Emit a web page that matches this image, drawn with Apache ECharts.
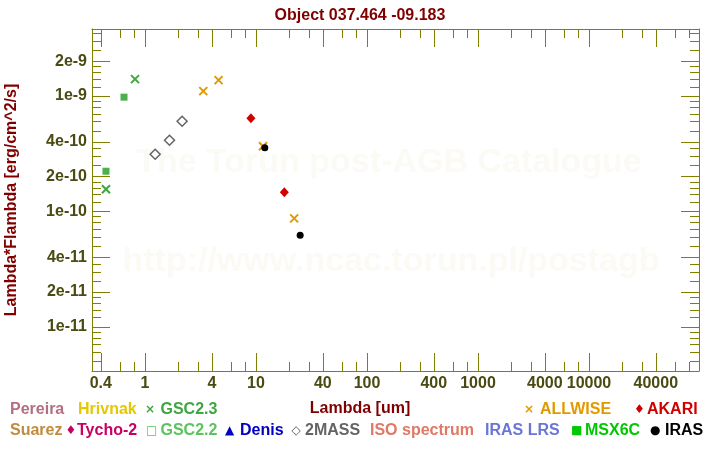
<!DOCTYPE html>
<html><head><meta charset="utf-8">
<script src="https://cdn.jsdelivr.net/npm/echarts@6/dist/echarts.min.js"></script>
<style>html,body{margin:0;padding:0;background:#fff}#c{width:720px;height:450px}</style>
</head><body><div id="c"></div>
<script>
// ---------- data ----------
const titleText = 'Object 037.464 -09.183';
const xName = 'Lambda [um]';
const yName = 'Lambda*Flambda [erg/cm^2/s]';
const xRange = [0.333, 98000];
const yRange = [4.14e-12, 3.81e-9];
const xMajorTicks = [0.4, 1, 4, 10, 40, 100, 400, 1000, 4000, 10000, 40000];
const xTickLabels = ['0.4', '1', '4', '10', '40', '100', '400', '1000', '4000', '10000', '40000'];
const xMinorTicks = [0.6, 0.8, 2, 3, 6, 8, 20, 30, 60, 80, 200, 300, 600, 800, 2000, 3000, 6000, 8000, 20000, 30000, 60000, 80000];
const yMajorTicks = [1e-11, 2e-11, 4e-11, 1e-10, 2e-10, 4e-10, 1e-9, 2e-9];
const yTickLabels = ['1e-11', '2e-11', '4e-11', '1e-10', '2e-10', '4e-10', '1e-9', '2e-9'];
const yMinorTicks = [5e-12, 6e-12, 7e-12, 8e-12, 9e-12,
  1.2e-11, 1.4e-11, 1.6e-11, 1.8e-11, 2.5e-11, 3e-11, 3.5e-11, 5e-11, 6e-11, 7e-11, 8e-11, 9e-11,
  1.2e-10, 1.4e-10, 1.6e-10, 1.8e-10, 2.5e-10, 3e-10, 3.5e-10, 5e-10, 6e-10, 7e-10, 8e-10, 9e-10,
  1.2e-9, 1.4e-9, 1.6e-9, 1.8e-9, 2.5e-9, 3e-9, 3.5e-9];

const gsc23Lambda = [0.445, 0.813];
const gsc23Flux = [1.556e-10, 1.402e-9];
const gsc22Lambda = [0.445, 0.647];
const gsc22Flux = [2.23e-10, 9.78e-10];
const twomassLambda = [1.235, 1.662, 2.159];
const twomassFlux = [3.13e-10, 4.14e-10, 6.05e-10];
const allwiseLambda = [3.35, 4.6, 11.56, 22.08];
const allwiseFlux = [1.103e-9, 1.374e-9, 3.67e-10, 8.71e-11];
const akariLambda = [9, 18];
const akariFlux = [6.43e-10, 1.465e-10];
const irasLambda = [12, 25];
const irasFlux = [3.57e-10, 6.20e-11];

const legendRow1Names = ['Pereira', 'Hrivnak', 'GSC2.3', 'ALLWISE', 'AKARI'];
const legendRow1Symbols = ['', '', '×', '×', '♦'];
const legendRow1Colors = ['#b46e82', '#e6c800', '#3fa63f', '#e09a00', '#d00000'];
const legendRow2Names = ['Suarez', 'Tycho-2', 'GSC2.2', 'Denis', '2MASS', 'ISO spectrum', 'IRAS LRS', 'MSX6C', 'IRAS'];
const legendRow2Symbols = ['', '♦', '□', '▲', '◇', '', '', '■', '●'];
const legendRow2Colors = ['#c08c3c', '#c80064', '#5cc45c', '#0000c0', '#646464', '#e07866', '#6a76d6', '#00c800', '#000000'];
const watermark = ['The Torun post-AGB Catalogue', 'http://www.ncac.torun.pl/postagb'];

// ---------- layout ----------
const FONT = '"Liberation Sans", Arial, Helvetica, sans-serif';
const OLIVE = '#808000';
const LABEL = '#4a4a12';
const DARKRED = '#800000';
const L = Math.log10;
const logs = a => a.map(v => L(v));
const pts = (xs, ys) => xs.map((x, i) => [L(x), L(ys[i])]);
function lookup(ticks, labels) {
  return v => { for (let i = 0; i < ticks.length; i++) if (Math.abs(L(ticks[i]) - v) < 1e-6) return labels[i]; return ''; };
}
const gridRect = { left: 92, right: 21, top: 29, bottom: 79, containLabel: false, outerBoundsMode: 'none' };

function xAx(grid, pos, major, showLine, showLabel) {
  return {
    type: 'value', gridIndex: grid, position: pos, min: L(xRange[0]), max: L(xRange[1]),
    axisLine: { show: showLine, onZero: false, lineStyle: { color: OLIVE, width: 1 } },
    axisTick: { show: true, inside: true, length: major ? 18 : 9, customValues: logs(major ? xMajorTicks : xMinorTicks), lineStyle: { color: OLIVE, width: 1 } },
    axisLabel: { show: showLabel, customValues: logs(xMajorTicks), formatter: lookup(xMajorTicks, xTickLabels), color: LABEL, fontSize: 16, fontWeight: 'bold', fontFamily: FONT, margin: 5 },
    splitLine: { show: false }
  };
}
function yAx(grid, pos, major, showLine, showLabel, withName) {
  const a = {
    type: 'value', gridIndex: grid, position: pos, min: L(yRange[0]), max: L(yRange[1]),
    axisLine: { show: showLine, onZero: false, lineStyle: { color: OLIVE, width: 1 } },
    axisTick: { show: true, inside: true, length: major ? 18 : 9, customValues: logs(major ? yMajorTicks : yMinorTicks), lineStyle: { color: OLIVE, width: 1 } },
    axisLabel: { show: showLabel, customValues: logs(yMajorTicks), formatter: lookup(yMajorTicks, yTickLabels), color: LABEL, fontSize: 16, fontWeight: 'bold', fontFamily: FONT, margin: 5 },
    splitLine: { show: false }
  };
  if (withName) {
    a.name = yName; a.nameLocation = 'middle'; a.nameRotate = 90; a.nameGap = 72;
    a.nameTextStyle = { color: DARKRED, fontSize: 16, fontWeight: 'bold', fontFamily: FONT };
  }
  return a;
}

const cross = 'path://M0,0L10,10M0,10L10,0';
const graphics = [];
watermark.forEach((t, i) => {
  graphics.push({ type: 'text', x: [389, 391][i], y: [163, 262][i], silent: true, z: 0,
    style: { text: t, fill: '#fcfaf5', font: 'bold 34px ' + FONT, align: 'center', verticalAlign: 'middle' } });
});
function addRow(names, syms, colors, tx, sx, y) {
  names.forEach((n, i) => {
    if (syms[i]) graphics.push({ type: 'text', x: sx[i], y: y, style: { text: syms[i], fill: colors[i], font: 'bold 12px "DejaVu Sans", sans-serif', align: 'left', verticalAlign: 'middle' } });
    graphics.push({ type: 'text', x: tx[i], y: y, style: { text: n, fill: colors[i], font: 'bold 16px ' + FONT, align: 'left', verticalAlign: 'middle' } });
  });
}
addRow(legendRow1Names, legendRow1Symbols, legendRow1Colors, [10, 78, 160.5, 540, 647], [0, 0, 145, 524, 634], 410);
addRow(legendRow2Names, legendRow2Symbols, legendRow2Colors, [10, 77, 160.5, 240, 305, 370, 485, 585, 665], [0, 65.5, 146, 225, 291.5, 0, 0, 571, 650], 431);

const chart = echarts.init(document.getElementById('c'), null, { renderer: 'canvas' });
chart.setOption({
  backgroundColor: '#fff',
  animation: false,
  title: [
    { text: titleText, left: 'center', top: 3, textStyle: { color: DARKRED, fontSize: 16, fontWeight: 'bold', fontFamily: FONT } },
    { text: xName, left: 'center', top: 396, textStyle: { color: DARKRED, fontSize: 16, fontWeight: 'bold', fontFamily: FONT } }
  ],
  grid: [Object.assign({}, gridRect), Object.assign({}, gridRect)],
  xAxis: [xAx(0, 'bottom', true, true, true), xAx(0, 'top', true, true, false), xAx(1, 'bottom', false, false, false), xAx(1, 'top', false, false, false)],
  yAxis: [yAx(0, 'left', true, true, true, true), yAx(0, 'right', true, true, false, false), yAx(1, 'left', false, false, false, false), yAx(1, 'right', false, false, false, false)],
  graphic: graphics,
  series: [
    { name: 'GSC2.2', type: 'scatter', data: pts(gsc22Lambda, gsc22Flux), symbol: 'rect', symbolSize: 7, itemStyle: { color: '#4cb04c', opacity: 1 }, z: 3 },
    { name: 'GSC2.3', type: 'scatter', data: pts(gsc23Lambda, gsc23Flux), symbol: cross, symbolSize: 8, itemStyle: { color: 'rgba(0,0,0,0)', borderColor: '#3fa63f', borderWidth: 2, opacity: 1 }, z: 3 },
    { name: '2MASS', type: 'scatter', data: pts(twomassLambda, twomassFlux), symbol: 'diamond', symbolSize: 10, itemStyle: { color: 'rgba(0,0,0,0)', borderColor: '#646464', borderWidth: 1.5, opacity: 1 }, z: 3 },
    { name: 'AKARI', type: 'scatter', data: pts(akariLambda, akariFlux), symbol: 'diamond', symbolSize: [9, 10], itemStyle: { color: '#d00000', opacity: 1 }, z: 3 },
    { name: 'ALLWISE', type: 'scatter', data: pts(allwiseLambda, allwiseFlux), symbol: cross, symbolSize: 8, itemStyle: { color: 'rgba(0,0,0,0)', borderColor: '#e09a00', borderWidth: 2, opacity: 1 }, z: 3 },
    { name: 'IRAS', type: 'scatter', data: pts(irasLambda, irasFlux), symbol: 'circle', symbolSize: 7, itemStyle: { color: '#000000', opacity: 1 }, z: 4 }
  ]
});
</script></body></html>
